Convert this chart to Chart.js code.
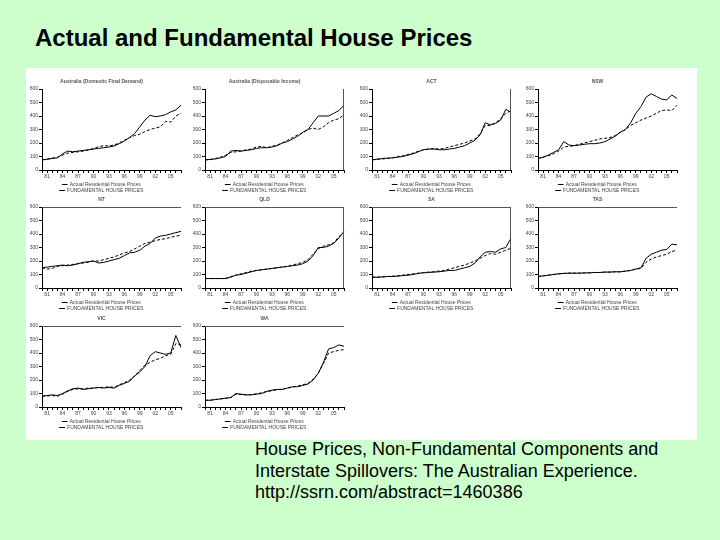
<!DOCTYPE html>
<html>
<head>
<meta charset="utf-8">
<script src="https://cdn.jsdelivr.net/npm/chart.js@4"></script>
<style>
  body { margin: 0; background: #ccffcc; }
  #page { position: relative; width: 720px; height: 540px; background: #ccffcc; font-family: "Liberation Sans", Arial, sans-serif; }
  #title { position: absolute; left: 35px; top: 24px; font-size: 24px; font-weight: bold; color: #000; }
  #panel { position: absolute; left: 26px; top: 68px; width: 671px; height: 372px; background: #fff; }
  #caption { position: absolute; left: 255px; top: 439px; font-size: 18px; line-height: 21.5px; color: #000; }
  canvas { position: absolute; }
</style>
</head>
<body>
<div id="page">
  <div id="title">Actual and Fundamental House Prices</div>
  <div id="panel"></div>
  <div id="caption">House Prices, Non-Fundamental Components and<br>Interstate Spillovers: The Australian Experience.<br>http://ssrn.com/abstract=1460386</div>
</div>
<script>
// x axis: yearly points
const years = ['80', '81', '82', '83', '84', '85', '86', '87', '88', '89', '90', '91', '92', '93',
  '94', '95', '96', '97', '98', '99', '00', '01', '02', '03', '04', '05', '06', '07']
const yTicks = [0, 100, 200, 300, 400, 500, 600]

const actualLabel = 'Actual Residential House Prices'
const fundLabel = 'FUNDAMENTAL HOUSE PRICES'

// solid = actual, dashed = fundamental
const ausDfdActual = [75, 80, 85, 90, 120, 140, 135, 140, 145, 150, 155, 160, 165, 170, 178, 195, 215, 240, 270, 320, 370, 405, 395, 400, 410, 430, 445, 480]
const ausDfdFund = [75, 80, 88, 95, 110, 125, 130, 135, 140, 148, 160, 172, 180, 178, 185, 200, 220, 240, 255, 265, 285, 300, 310, 320, 360, 355, 400, 420]
const ausDiActual = [75, 78, 82, 90, 100, 140, 145, 140, 145, 150, 160, 165, 165, 170, 180, 200, 210, 230, 250, 280, 300, 350, 400, 400, 400, 420, 440, 480]
const ausDiFund = [75, 78, 85, 95, 110, 130, 135, 140, 150, 155, 170, 175, 165, 175, 185, 200, 220, 240, 260, 275, 300, 310, 300, 320, 350, 370, 380, 410]
const actActual = [75, 80, 85, 88, 90, 95, 100, 110, 120, 135, 150, 155, 155, 150, 150, 155, 160, 170, 180, 200, 220, 260, 350, 335, 345, 370, 450, 425]
const actFund = [75, 80, 82, 85, 90, 100, 105, 115, 125, 140, 150, 155, 160, 155, 160, 170, 180, 190, 200, 215, 230, 270, 330, 330, 350, 380, 420, 440]
const nswActual = [85, 95, 110, 130, 150, 210, 185, 180, 185, 190, 195, 195, 200, 210, 230, 250, 280, 300, 350, 420, 470, 540, 565, 545, 525, 520, 555, 530]
const nswFund = [85, 95, 105, 120, 140, 170, 175, 180, 190, 200, 210, 220, 230, 235, 240, 255, 280, 300, 330, 350, 370, 385, 400, 420, 440, 445, 440, 480]
const ntActual = [150, 155, 160, 165, 170, 165, 170, 180, 190, 195, 200, 185, 190, 200, 210, 220, 240, 260, 265, 280, 310, 330, 370, 385, 390, 400, 410, 420]
const ntFund = [150, 140, 145, 160, 165, 170, 175, 180, 185, 190, 200, 200, 210, 220, 230, 245, 260, 270, 290, 310, 330, 340, 350, 360, 365, 375, 385, 390]
const qldActual = [70, 70, 70, 70, 70, 80, 95, 100, 110, 120, 130, 135, 140, 145, 150, 155, 160, 165, 170, 180, 200, 240, 300, 300, 310, 330, 370, 420]
const qldFund = [70, 70, 70, 70, 72, 85, 95, 105, 115, 125, 130, 135, 140, 145, 150, 155, 160, 170, 180, 190, 210, 250, 290, 310, 320, 335, 380, 410]
const saActual = [80, 80, 82, 85, 85, 88, 92, 95, 100, 108, 112, 115, 118, 120, 125, 130, 130, 140, 150, 160, 185, 230, 265, 270, 265, 290, 300, 370]
const saFund = [80, 80, 82, 85, 88, 90, 95, 100, 105, 110, 115, 118, 120, 125, 130, 140, 150, 160, 170, 185, 200, 220, 240, 255, 250, 265, 280, 295]
const tasActual = [85, 90, 95, 100, 105, 108, 110, 110, 110, 112, 112, 115, 115, 118, 118, 120, 120, 125, 130, 140, 150, 220, 250, 265, 280, 285, 325, 320]
const tasFund = [85, 90, 95, 100, 105, 108, 110, 110, 110, 112, 112, 115, 115, 118, 118, 120, 120, 125, 130, 140, 145, 190, 215, 230, 240, 250, 270, 280]
const vicActual = [80, 85, 90, 85, 100, 120, 135, 140, 130, 135, 140, 145, 140, 145, 140, 160, 175, 190, 230, 260, 300, 380, 410, 400, 390, 400, 530, 440]
const vicFund = [80, 82, 85, 80, 95, 115, 130, 135, 135, 140, 140, 145, 145, 150, 145, 165, 180, 200, 230, 270, 310, 330, 350, 360, 380, 390, 470, 460]
const waActual = [50, 50, 55, 60, 65, 70, 100, 95, 90, 90, 95, 100, 115, 125, 130, 130, 140, 150, 150, 160, 170, 200, 250, 330, 430, 440, 460, 450]
const waFund = [50, 50, 55, 60, 65, 70, 95, 92, 90, 92, 98, 105, 115, 120, 128, 132, 140, 148, 155, 165, 175, 205, 250, 320, 400, 410, 420, 425]

const panelTitles = ['Australia (Domestic Final Demand)', 'Australia (Disposable Income)', 'ACT', 'NSW',
  'NT', 'QLD', 'SA', 'TAS', 'VIC', 'WA']

// thin box lines on some panels (top / right)
const framePlugin = {
  id: 'frame',
  afterDraw (chart, args, opts) {
    const a = chart.chartArea
    const ctx = chart.ctx
    ctx.save()
    ctx.strokeStyle = '#555'
    ctx.lineWidth = 1
    ctx.beginPath()
    if (opts.top) { ctx.moveTo(a.left, a.top + 0.5); ctx.lineTo(a.right, a.top + 0.5) }
    if (opts.right) { ctx.moveTo(a.right - 0.5, a.top); ctx.lineTo(a.right - 0.5, a.bottom) }
    ctx.stroke()
    ctx.restore()
  }
}

function makeChart (x, y, title, actual, fund, frame) {
  const cv = document.createElement('canvas')
  cv.width = 168
  cv.height = 126
  cv.style.left = x + 'px'
  cv.style.top = y + 'px'
  document.getElementById('page').appendChild(cv)
  return new Chart(cv, {
    type: 'line',
    data: {
      labels: years,
      datasets: [{
        label: actualLabel,
        data: actual,
        borderColor: '#000',
        borderWidth: 1,
        pointRadius: 0,
        tension: 0
      }, {
        label: fundLabel,
        data: fund,
        borderColor: '#000',
        borderWidth: 1,
        borderDash: [3, 2],
        pointRadius: 0,
        tension: 0
      }]
    },
    options: {
      responsive: false,
      animation: false,
      layout: { padding: { left: 0, right: 9, top: 0, bottom: 0 } },
      plugins: {
        title: { display: true, text: title, color: '#555', font: { size: 5, family: 'Liberation Sans' }, padding: { top: 2, bottom: 4 } },
        legend: {
          position: 'bottom',
          labels: { usePointStyle: true, pointStyle: 'line', boxWidth: 18, boxHeight: 4, color: '#444', font: { size: 5, family: 'Liberation Sans' }, padding: 1 }
        },
        tooltip: { enabled: false },
        frame: frame
      },
      scales: {
        x: {
          grid: { drawOnChartArea: false, tickLength: 3, color: '#000' },
          border: { color: '#000' },
          ticks: {
            autoSkip: false,
            maxRotation: 0,
            color: '#444',
            font: { size: 5, family: 'Liberation Sans' },
            padding: 1,
            callback: function (v, i) { return i % 3 === 1 ? years[i] : '' }
          }
        },
        y: {
          min: 0,
          max: 600,
          afterBuildTicks: function (s) { s.ticks = yTicks.map(v => ({ value: v })) },
          afterFit: function (s) { s.width = 20 },
          grid: { drawOnChartArea: false, tickLength: 3, color: '#000' },
          border: { color: '#000' },
          ticks: { color: '#444', font: { size: 5, family: 'Liberation Sans' }, padding: 1 }
        }
      }
    },
    plugins: [framePlugin]
  })
}

const colX = [22, 185, 352, 518]
const rowY = [77, 195, 314]

makeChart(colX[0], rowY[0], panelTitles[0], ausDfdActual, ausDfdFund, {})
makeChart(colX[1], rowY[0], panelTitles[1], ausDiActual, ausDiFund, { right: true })
makeChart(colX[2], rowY[0], panelTitles[2], actActual, actFund, { right: true })
makeChart(colX[3], rowY[0], panelTitles[3], nswActual, nswFund, {})
makeChart(colX[0], rowY[1], panelTitles[4], ntActual, ntFund, { top: true })
makeChart(colX[1], rowY[1], panelTitles[5], qldActual, qldFund, { top: true, right: true })
makeChart(colX[2], rowY[1], panelTitles[6], saActual, saFund, { top: true, right: true })
makeChart(colX[3], rowY[1], panelTitles[7], tasActual, tasFund, { top: true })
makeChart(colX[0], rowY[2], panelTitles[8], vicActual, vicFund, { top: true })
makeChart(colX[1], rowY[2], panelTitles[9], waActual, waFund, { top: true })
</script>
</body>
</html>
